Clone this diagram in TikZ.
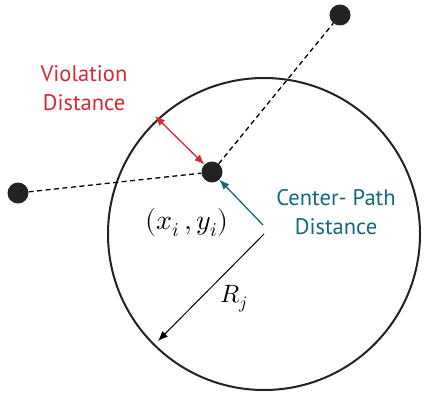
\documentclass[tikz,border=0pt]{standalone}
\usepackage{fontspec}
\setmainfont{PT Sans}
\usepackage{unicode-math}
\setmathfont{Latin Modern Math}
\usetikzlibrary{arrows.meta}
\definecolor{vred}{HTML}{D42A33}
\definecolor{cteal}{HTML}{13697A}
\definecolor{dotc}{HTML}{222222}
\begin{document}
\begin{tikzpicture}[x=1pt,y=-1pt,
  dot/.style={circle,fill=dotc,inner sep=0pt,minimum size=21pt},
  path/.style={line width=1.3pt,dash pattern=on 5pt off 3.5pt},
  tip/.style={-{Latex[length=10pt,width=8pt]}},
  lab/.style={font=\fontsize{22.5}{29}\selectfont,align=center}]
\useasboundingbox (0,0) rectangle (427,393);
\coordinate (c) at (264,234);
\draw[line width=2pt,dotc] (c) circle (156);
\node[dot] (a) at (18,193) {};
\node[dot] (m) at (212,172) {};
\node[dot] (b) at (340,15) {};
\draw[path] (a) -- (m);
\draw[path] (m) -- (b);
\coordinate (v) at (155,116);
\draw[vred,line width=1.3pt,{Latex[length=10pt,width=8pt]}-{Latex[length=10pt,width=8pt]}] (v) -- (m);
\draw[cteal,line width=1.3pt,tip] (263,225) -- (m);
\coordinate (r) at (158,341);
\draw[line width=1pt,tip] (c) -- (r);
\node[lab,text=vred] (vl) at (84,88) {Violation\\Distance};
\node[lab,text=cteal] (cl) at (336,212) {Center- Path\\Distance};
\node[font=\fontsize{28}{30}\selectfont] (xy) at (187,223) {$(x_i\,,y_i)$};
\node[font=\fontsize{25}{30}\selectfont] (rj) at (234,299) {$R_j$};
\end{tikzpicture}
\end{document}
